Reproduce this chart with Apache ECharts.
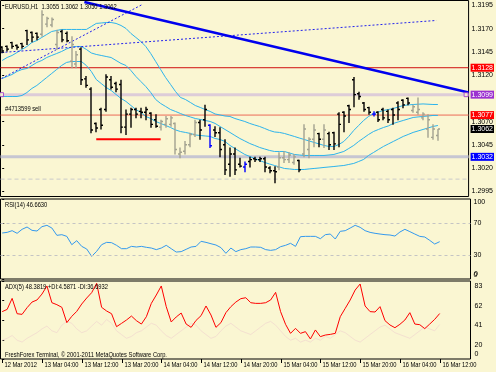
<!DOCTYPE html>
<html><head><meta charset="utf-8">
<script src="https://cdn.jsdelivr.net/npm/echarts@6/dist/echarts.min.js"></script>
<style>html,body{margin:0;padding:0;background:#FAF6D2;}#c{width:496px;height:372px;}</style>
</head><body><div id="c"></div>
<script>
// ---------- DATA ----------
const xTickLabels = ['12 Mar 2012','13 Mar 04:00','13 Mar 12:00','13 Mar 20:00','14 Mar 04:00','14 Mar 12:00','14 Mar 20:00','15 Mar 04:00','15 Mar 12:00','15 Mar 20:00','16 Mar 04:00','16 Mar 12:00'];
const xTickIdx = [0,8,16,24,32,40,48,56,64,72,80,88];
const priceTicks = [1.2995,1.3020,1.3045,1.3070,1.3120,1.3145,1.3170,1.3195];
const rsiTicks = [0,30,70,100];
const adxTicks = [0,20,41,62,83];

const barOpen = [1.3150,1.3151,1.3155,1.3152,1.3154,1.3168,1.3166,1.3165,1.3164,1.3175,
1.3174,1.3153,1.3167,1.3165,1.3135,1.3132,1.3148,1.3116,1.3105,1.3068,
1.3083,1.3083,1.3115,1.3111,1.3110,1.3064,1.3078,1.3083,1.3081,1.3080,
1.3079,1.3072,1.3064,1.3067,1.3067,1.3068,1.3035,1.3038,1.3045,1.3056,
1.3069,1.3072,1.3066,1.3061,1.3058,1.3045,1.3024,1.3035,1.3024,1.3021,
1.3027,1.3030,1.3029,1.3030,1.3020,1.3017,1.3021,1.3031,1.3029,1.3026,
1.3028,1.3035,1.3040,1.3051,1.3057,1.3051,1.3057,1.3058,1.3078,1.3080,
1.3087,1.3115,1.3100,1.3090,1.3085,1.3078,1.3080,1.3083,1.3081,1.3083,
1.3090,1.3093,1.3095,1.3082,1.3080,1.3074,1.3062,1.3053,1.3055];
const barHigh = [1.3151,1.3152,1.3156,1.3153,1.3155,1.3169,1.3167,1.3166,1.3190,1.3183,
1.3182,1.3169,1.3169,1.3167,1.3162,1.3146,1.3150,1.3119,1.3107,1.3069,
1.3085,1.3121,1.3119,1.3113,1.3115,1.3083,1.3085,1.3085,1.3085,1.3086,
1.3080,1.3078,1.3072,1.3076,1.3076,1.3069,1.3042,1.3049,1.3058,1.3072,
1.3072,1.3088,1.3067,1.3065,1.3064,1.3051,1.3042,1.3042,1.3031,1.3027,
1.3032,1.3032,1.3032,1.3032,1.3022,1.3022,1.3037,1.3038,1.3037,1.3035,
1.3029,1.3067,1.3053,1.3067,1.3058,1.3067,1.3059,1.3059,1.3080,1.3081,
1.3088,1.3118,1.3102,1.3091,1.3086,1.3081,1.3081,1.3085,1.3083,1.3085,
1.3092,1.3094,1.3096,1.3088,1.3096,1.3080,1.3078,1.3067,1.3062];
const barLow = [1.3144,1.3146,1.3149,1.3148,1.3149,1.3153,1.3156,1.3158,1.3162,1.3172,
1.3172,1.3148,1.3156,1.3156,1.3128,1.3128,1.3110,1.3107,1.3058,1.3059,
1.3062,1.3081,1.3105,1.3102,1.3058,1.3056,1.3064,1.3074,1.3074,1.3072,
1.3064,1.3064,1.3061,1.3064,1.3065,1.3035,1.3031,1.3035,1.3043,1.3054,
1.3051,1.3065,1.3042,1.3054,1.3032,1.3013,1.3011,1.3013,1.3021,1.3016,
1.3021,1.3027,1.3027,1.3016,1.3015,1.3004,1.3018,1.3026,1.3026,1.3024,
1.3016,1.3032,1.3031,1.3043,1.3043,1.3042,1.3040,1.3040,1.3043,1.3059,
1.3069,1.3086,1.3094,1.3081,1.3078,1.3076,1.3070,1.3072,1.3069,1.3067,
1.3072,1.3085,1.3088,1.3080,1.3078,1.3072,1.3053,1.3051,1.3050];
const barClose = [1.3146,1.3148,1.3151,1.3150,1.3151,1.3158,1.3161,1.3161,1.3185,1.3181,
1.3180,1.3166,1.3158,1.3157,1.3153,1.3142,1.3115,1.3109,1.3061,1.3063,
1.3066,1.3118,1.3107,1.3105,1.3064,1.3078,1.3083,1.3078,1.3080,1.3083,
1.3067,1.3065,1.3070,1.3073,1.3074,1.3040,1.3037,1.3045,1.3056,1.3069,
1.3061,1.3083,1.3044,1.3058,1.3040,1.3018,1.3035,1.3018,1.3022,1.3024,
1.3029,1.3029,1.3030,1.3021,1.3017,1.3016,1.3031,1.3029,1.3034,1.3032,
1.3018,1.3062,1.3051,1.3061,1.3051,1.3061,1.3045,1.3046,1.3067,1.3076,
1.3083,1.3099,1.3097,1.3083,1.3080,1.3078,1.3072,1.3074,1.3072,1.3077,
1.3083,1.3088,1.3090,1.3086,1.3083,1.3078,1.3072,1.3062,1.3062];
const grayBars = [8,9,10,11,14,15,32,33,34,35,36,37,38,39,56,57,58,59,61,62,63,65,83,84,85,86,87,88];
const blueBars = [42,49,75];

const bbUpper = [1.31358,1.31390,1.31412,1.31444,1.31477,1.31509,1.31552,1.31573,1.31606,1.31638,
1.31670,1.31681,1.31692,1.31692,1.31692,1.31692,1.31692,1.31692,1.31724,1.31757,
1.31762,1.31767,1.31767,1.31757,1.31735,1.31703,1.31649,1.31606,1.31563,1.31509,
1.31433,1.31347,1.31261,1.31175,1.31100,1.31024,1.30960,1.30938,1.30906,1.30873,
1.30852,1.30830,1.30809,1.30782,1.30771,1.30760,1.30755,1.30733,1.30717,1.30701,
1.30680,1.30663,1.30647,1.30626,1.30604,1.30588,1.30583,1.30572,1.30556,1.30540,
1.30523,1.30507,1.30491,1.30475,1.30459,1.30443,1.30432,1.30432,1.30453,1.30486,
1.30540,1.30604,1.30658,1.30712,1.30755,1.30787,1.30803,1.30820,1.30830,1.30841,
1.30857,1.30873,1.30879,1.30884,1.30887,1.30890,1.30887,1.30884,1.30884];
const bbMiddle = [1.31164,1.31186,1.31207,1.31240,1.31261,1.31272,1.31304,1.31337,1.31358,1.31390,
1.31412,1.31433,1.31455,1.31482,1.31503,1.31509,1.31509,1.31477,1.31439,1.31423,
1.31412,1.31401,1.31390,1.31358,1.31326,1.31304,1.31250,1.31186,1.31132,1.31078,
1.31013,1.30938,1.30895,1.30863,1.30830,1.30809,1.30787,1.30766,1.30750,1.30733,
1.30723,1.30712,1.30701,1.30680,1.30647,1.30615,1.30583,1.30550,1.30518,1.30491,
1.30464,1.30443,1.30421,1.30405,1.30389,1.30378,1.30378,1.30378,1.30362,1.30346,
1.30340,1.30335,1.30335,1.30335,1.30335,1.30335,1.30340,1.30346,1.30362,1.30378,
1.30410,1.30443,1.30486,1.30523,1.30561,1.30593,1.30615,1.30636,1.30653,1.30680,
1.30696,1.30712,1.30728,1.30744,1.30750,1.30755,1.30760,1.30766,1.30766];
const bbLower = [1.30970,1.30970,1.30970,1.30970,1.30981,1.31013,1.31057,1.31089,1.31132,1.31175,
1.31218,1.31261,1.31304,1.31337,1.31347,1.31347,1.31347,1.31304,1.31240,1.31153,
1.31110,1.31067,1.31035,1.30992,1.30949,1.30917,1.30873,1.30830,1.30798,1.30755,
1.30733,1.30701,1.30680,1.30658,1.30636,1.30610,1.30593,1.30583,1.30572,1.30556,
1.30550,1.30545,1.30540,1.30518,1.30507,1.30486,1.30443,1.30410,1.30378,1.30346,
1.30324,1.30303,1.30281,1.30260,1.30243,1.30227,1.30211,1.30195,1.30190,1.30184,
1.30184,1.30184,1.30190,1.30195,1.30200,1.30206,1.30211,1.30216,1.30222,1.30227,
1.30238,1.30249,1.30270,1.30292,1.30335,1.30367,1.30400,1.30432,1.30459,1.30486,
1.30513,1.30540,1.30561,1.30583,1.30599,1.30615,1.30631,1.30647,1.30658];

const rsiValues = [57.5,58.3,60.4,57.1,62.1,65.0,60.8,60.0,65.4,67.1,
63.7,54.6,55.4,53.3,42.9,47.9,40.8,37.5,28.3,34.6,
42.9,45.8,45.4,42.1,37.9,37.9,40.8,40.0,40.8,39.6,
38.7,36.7,38.7,42.1,37.9,33.7,34.2,37.1,40.0,40.8,
47.1,45.8,44.1,42.5,39.2,32.1,38.7,34.2,36.7,37.9,
40.0,40.0,39.6,36.7,35.8,36.7,40.4,42.1,44.6,40.8,
52.9,53.3,53.3,53.3,50.4,55.4,56.2,50.0,59.6,60.4,
63.7,67.1,64.6,60.4,58.3,57.1,56.2,55.4,55.0,53.7,
58.7,62.1,59.2,56.2,53.3,52.5,48.3,43.7,46.66];
const rsiLevels = [70,30];

const adxValues = [50.4,52.8,64.5,48.2,47.5,54.6,60.6,62.8,69.1,77.7,
59.9,57.8,55.0,38.7,45.4,50.7,58.5,64.9,70.6,80.5,
55.0,51.1,48.2,34.4,37.9,41.5,45.7,40.8,37.2,45.0,
59.2,68.1,77.7,55.7,39.4,44.7,48.9,37.2,33.7,41.1,
46.1,56.4,46.8,33.7,38.7,49.3,55.7,60.6,64.2,65.2,
59.9,59.2,59.2,59.9,62.8,70.9,50.4,36.9,27.3,32.6,
27.3,29.1,21.3,30.9,23.8,25.5,26.2,27.3,45.0,53.9,
62.8,73.4,79.8,56.4,50.4,50.0,55.7,40.8,36.2,33.3,
36.9,41.5,49.3,37.2,36.5,32.3,37.2,42.2,48.38];
const diValues = [20,22,25,20,18,22,25,28,32,35,
30,28,36,40,38,32,28,30,35,40,
36,42,38,30,26,22,24,28,30,34,
38,36,30,25,22,26,30,34,38,36,
30,26,22,24,30,35,38,34,30,28,
26,30,34,38,40,36,30,24,20,22,
18,20,18,22,20,24,22,26,30,28,
24,20,18,22,26,30,34,36,32,28,
26,24,22,26,30,34,32,30,36.69];

// objects drawn on the price chart (bar index, price)
const trendLine = [[16.6,1.31988],[94.2,1.31013]];
const channelLine = [[-0.14,1.31444],[87.7,1.31789]];
const steepLine = [[-0.14,1.31164],[28.3,1.31961]];
const sellLine = [[19,1.3051],[32,1.3051]];
const level1 = 1.3128, level2 = 1.3099, level3 = 1.3077, bidPrice = 1.3062, level4 = 1.3032, level5 = 1.3008;
const anchorPts = [[-0.14,1.3099],[93.7,1.3099]];

const titleText = 'EURUSD,H1  1.3055 1.3062 1.3050 1.3062';
const orderText = '#4713599 sell';
const rsiText = 'RSI(14) 46.6630';
const adxText = 'ADX(5) 48.3819 +DI:4.5871 -DI:36.6932';
const copyText = 'FreshForex Terminal, \u00A9 2001-2011 MetaQuotes Software Corp.';

// ---------- CHART ----------
const FONT = '"Liberation Sans","DejaVu Sans",sans-serif';
const BG = '#FAF6D2';
const SX = 0.72; // narrow terminal font
const chart = echarts.init(document.getElementById('c'), null, {renderer: 'canvas'});
const idx = barOpen.map((_, i) => i);
const ohlc = idx.map(i => [i, barOpen[i], barHigh[i], barLow[i], barClose[i]]);
const pairs = arr => arr.map((v, i) => [i, v]);
function barColor(i) {
  if (blueBars.includes(i)) return '#0000FF';
  if (grayBars.includes(i)) return '#A2A290';
  return '#000000';
}
const XMIN = -0.34, XMAX = 94.2;
const gridBase = {left: 0.5, width: 470, show: true, backgroundColor: BG, borderColor: '#000', borderWidth: 1};
const lblBase = {fontSize: 7, color: '#000', fontFamily: FONT};
function textEl(str, x, y, scale) {
  return {type: 'text', x: x, y: y, scaleX: scale, z: 100, style: {text: str, fill: '#000', font: '8px ' + FONT, verticalAlign: 'top'}};
}
function levelSeries(v, lineStyle, boxColor) {
  const s = {type: 'line', xAxisIndex: 0, yAxisIndex: 0, data: [[XMIN, v], [XMAX, v]], showSymbol: false, z: 2, silent: true,
    lineStyle: lineStyle};
  if (boxColor) {
    s.endLabel = {show: true, distance: 2, formatter: p => p.value[1].toFixed(4), backgroundColor: boxColor,
      color: '#fff', fontSize: 7, fontFamily: FONT, padding: [1, 1, 0, 1]};
  }
  return s;
}
function scaleLabels(ticks, xAxisIndex, yAxisIndex, dyFn) {
  return {type: 'custom', xAxisIndex: xAxisIndex, yAxisIndex: yAxisIndex, clip: false, silent: true, z: 6,
    data: ticks.map(v => [XMAX, v]),
    renderItem: function (params, api) {
      const v = ticks[params.dataIndex];
      const p = api.coord([XMAX, v]);
      return {type: 'text', x: p[0] + 4, y: p[1] + dyFn(v), z2: 10,
        style: {text: String(v), fill: '#000', font: '7px ' + FONT, verticalAlign: 'middle'}};
    }};
}

const option = {
  animation: false,
  backgroundColor: BG,
  grid: [
    Object.assign({top: 0.5, height: 196}, gridBase),
    Object.assign({top: 199, height: 80}, gridBase),
    Object.assign({top: 281, height: 78}, gridBase)
  ],
  xAxis: [
    {type: 'value', gridIndex: 0, min: XMIN, max: XMAX, show: false},
    {type: 'value', gridIndex: 1, min: XMIN, max: XMAX, show: false},
    {type: 'value', gridIndex: 2, min: XMIN, max: XMAX, show: false}
  ],
  yAxis: [
    {type: 'value', gridIndex: 0, position: 'right', min: 1.29893, max: 1.32004,
      axisLine: {show: false}, splitLine: {show: false},
      axisTick: {show: true, length: 2, customValues: priceTicks, lineStyle: {color: '#000'}},
      axisLabel: Object.assign({customValues: priceTicks, formatter: v => v.toFixed(4), margin: 3}, lblBase)},
    {type: 'value', gridIndex: 1, position: 'right', min: 0, max: 100,
      axisLine: {show: false}, splitLine: {show: false},
      axisTick: {show: true, length: 2, customValues: rsiTicks, lineStyle: {color: '#000'}},
      axisLabel: Object.assign({customValues: rsiTicks, margin: 3, verticalAlignMaxLabel: 'top', verticalAlignMinLabel: 'bottom'}, lblBase)},
    {type: 'value', gridIndex: 2, position: 'right', min: 0, max: 83,
      axisLine: {show: false}, splitLine: {show: false},
      axisTick: {show: true, length: 2, customValues: adxTicks, lineStyle: {color: '#000'}},
      axisLabel: {show: false}}
  ],
  graphic: [
    textEl(titleText, 5, 3, SX),
    textEl(orderText, 5, 105, SX),
    textEl(rsiText, 5, 201, SX),
    textEl(adxText, 5, 283, SX),
    textEl(copyText, 5, 351, SX),
    {type: 'text', x: 474, y: 278, z: 100, style: {text: String(rsiTicks[0]), fill: '#000', font: '7px ' + FONT, verticalAlign: 'bottom'}}
  ],
  series: [
    levelSeries(level5, {color: '#CACACA', width: 1, type: [4, 3]}, null),
    levelSeries(level4, {color: '#C6C6D2', width: 3}, '#0000FF'),
    levelSeries(level2, {color: '#DDCCD8', width: 3}, '#9B30D0'),
    levelSeries(level3, {color: '#EC6A58', width: 1}, '#FF0000'),
    levelSeries(level1, {color: '#D01010', width: 1}, '#FF0000'),
    levelSeries(bidPrice, {color: 'rgba(0,0,0,0)', width: 0}, '#000000'),
    {type: 'line', name: 'bbUpper', xAxisIndex: 0, yAxisIndex: 0, data: pairs(bbUpper), showSymbol: false, z: 2,
      lineStyle: {color: '#2DB4EC', width: 1}},
    {type: 'line', name: 'bbMiddle', xAxisIndex: 0, yAxisIndex: 0, data: pairs(bbMiddle), showSymbol: false, z: 2,
      lineStyle: {color: '#2DB4EC', width: 1}},
    {type: 'line', name: 'bbLower', xAxisIndex: 0, yAxisIndex: 0, data: pairs(bbLower), showSymbol: false, z: 2,
      lineStyle: {color: '#2DB4EC', width: 1}},
    {type: 'line', name: 'steep', xAxisIndex: 0, yAxisIndex: 0, data: steepLine, showSymbol: false, z: 2,
      lineStyle: {color: '#2222EE', width: 1, type: [2, 2]}},
    {type: 'line', name: 'channel', xAxisIndex: 0, yAxisIndex: 0, data: channelLine, showSymbol: false, z: 2,
      lineStyle: {color: '#2222EE', width: 1, type: [2, 2]}},
    {type: 'line', name: 'sell', xAxisIndex: 0, yAxisIndex: 0, data: sellLine, showSymbol: false, z: 2,
      lineStyle: {color: '#FF0000', width: 2}},
    {type: 'custom', name: 'bars', xAxisIndex: 0, yAxisIndex: 0, data: ohlc, z: 3,
      renderItem: function (params, api) {
        const i = api.value(0);
        const o = api.coord([i, api.value(1)]);
        const h = api.coord([i, api.value(2)]);
        const l = api.coord([i, api.value(3)]);
        const c = api.coord([i, api.value(4)]);
        const x = Math.round(o[0]);
        const col = barColor(params.dataIndex);
        const st = {stroke: col, lineWidth: 1.4};
        return {type: 'group', children: [
          {type: 'line', shape: {x1: x, y1: h[1], x2: x, y2: l[1] + 0.5}, style: st},
          {type: 'line', shape: {x1: x - 2, y1: o[1], x2: x, y2: o[1]}, style: st},
          {type: 'line', shape: {x1: x, y1: c[1], x2: x + 2, y2: c[1]}, style: st}
        ]};
      }},
    {type: 'line', name: 'trend', xAxisIndex: 0, yAxisIndex: 0, data: trendLine, showSymbol: false, z: 4,
      lineStyle: {color: '#0000EE', width: 2.5}},
    {type: 'scatter', name: 'anchors', xAxisIndex: 0, yAxisIndex: 0, data: anchorPts, symbol: 'rect', symbolSize: 4, z: 4,
      itemStyle: {color: BG, borderColor: '#9B30D0', borderWidth: 1}},
    {type: 'line', name: 'RSI', xAxisIndex: 1, yAxisIndex: 1, data: pairs(rsiValues), showSymbol: false, z: 3,
      lineStyle: {color: '#3399EE', width: 1},
      markLine: {symbol: 'none', silent: true, label: {show: false},
        lineStyle: {color: '#C4C4C4', width: 1, type: [3, 3]},
        data: rsiLevels.map(v => ({yAxis: v}))}},
    {type: 'line', name: 'DI', xAxisIndex: 2, yAxisIndex: 2, data: pairs(diValues), showSymbol: false, z: 2,
      lineStyle: {color: '#F4E0D0', width: 1}},
    {type: 'line', name: 'ADX', xAxisIndex: 2, yAxisIndex: 2, data: pairs(adxValues), showSymbol: false, z: 3,
      lineStyle: {color: '#FF0000', width: 1}},
    scaleLabels(adxTicks.slice(1), 2, 2, v => 5),
    {type: 'custom', name: 'timeAxis', xAxisIndex: 2, yAxisIndex: 2, clip: false, silent: true, z: 5,
      data: xTickIdx.map(v => [v, 0]),
      renderItem: function (params, api) {
        const p = api.coord([api.value(0), api.value(1)]);
        const x = Math.round(p[0]) + 0.5;
        const children = [
          {type: 'line', shape: {x1: x, y1: p[1], x2: x, y2: p[1] + 4}, style: {stroke: '#000', lineWidth: 1}},
          {type: 'text', x: x + 2, y: p[1] + 2, scaleX: SX,
            style: {text: xTickLabels[params.dataIndex], fill: '#000', font: '8px ' + FONT, verticalAlign: 'top'}}
        ];
        if (params.dataIndex === xTickIdx.length - 1) {
          // zero label of the ADX scale, anchored at the axis minimum
          const z0 = api.coord([XMAX, adxTicks[0]]);
          children.push({type: 'text', x: z0[0] + 4, y: z0[1] - 1,
            style: {text: String(adxTicks[0]), fill: '#000', font: '7px ' + FONT, verticalAlign: 'bottom'}});
        }
        return {type: 'group', children: children};
      }}
  ]
};
chart.setOption(option);
</script>
</body></html>
